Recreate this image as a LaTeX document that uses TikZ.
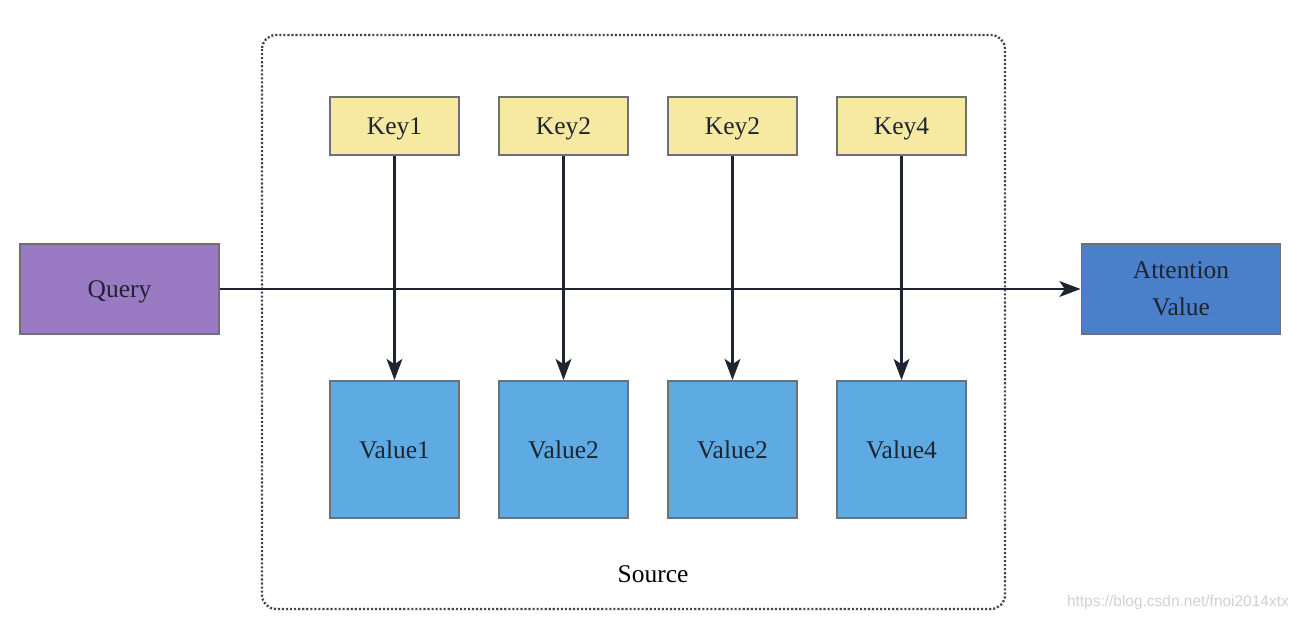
\documentclass[tikz,border=0pt]{standalone}
\usepackage{fontspec}
\setmainfont{Liberation Serif}
\newfontfamily\marksans{Liberation Sans}
\usetikzlibrary{arrows.meta}
\definecolor{keyfill}{HTML}{F6EAA2}
\definecolor{valfill}{HTML}{5EAAE2}
\definecolor{queryfill}{HTML}{9B7AC4}
\definecolor{attnfill}{HTML}{4A7FCA}
\definecolor{boxline}{HTML}{6E7074}
\definecolor{arrline}{HTML}{1F2431}
\tikzset{
    keybox/.style={draw=boxline, line width=1.1pt, fill=keyfill, minimum width=129\unitlen, minimum height=58\unitlen, text depth=0pt, font=\fontsize{14.5}{17}\selectfont, text=arrline},
    valbox/.style={keybox, fill=valfill, minimum height=137\unitlen},
    sidebox/.style={keybox, minimum width=199\unitlen, minimum height=90\unitlen, align=center},
    arr/.style={draw=arrline, line width=1.5pt, -{Stealth[length=12pt, width=9pt, inset=3pt]}}
}
\newlength{\unitlen}
\setlength{\unitlen}{0.02cm}
\begin{document}
\begin{tikzpicture}[x=0.02cm, y=-0.02cm]
        \useasboundingbox (0,0) rectangle (1303,621);

        \draw[arrline!85, line width=1.3pt, dash pattern=on 1.2pt off 1.1pt, rounded corners=8pt] (262,35) rectangle (1005,609);
        \node[text depth=0pt] (source) at (653,574) {\fontsize{14.5}{17}\selectfont Source};

        \node[keybox] (key1) at (394.5,126) {Key1};
        \node[keybox] (key2) at (563.5,126) {Key2};
        \node[keybox] (key3) at (732.5,126) {Key2};
        \node[keybox] (key4) at (901.5,126) {Key4};

        \node[valbox] (val1) at (394.5,449.5) {Value1};
        \node[valbox] (val2) at (563.5,449.5) {Value2};
        \node[valbox] (val3) at (732.5,449.5) {Value2};
        \node[valbox] (val4) at (901.5,449.5) {Value4};

        \node[sidebox, fill=queryfill] (query) at (119.5,289) {Query};
        \node[sidebox, fill=attnfill] (attn) at (1181,289) {Attention\\[4pt]Value};

        \draw[arr] (key1) -- (val1);
        \draw[arr] (key2) -- (val2);
        \draw[arr] (key3) -- (val3);
        \draw[arr] (key4) -- (val4);
        \draw[arr] (query) -- (attn);

        \node[anchor=east, text=black!18] (mark) at (1295,603) {\marksans\fontsize{8.8}{10}\selectfont https://blog.csdn.net/fnoi2014xtx};
    \end{tikzpicture}
\end{document}
